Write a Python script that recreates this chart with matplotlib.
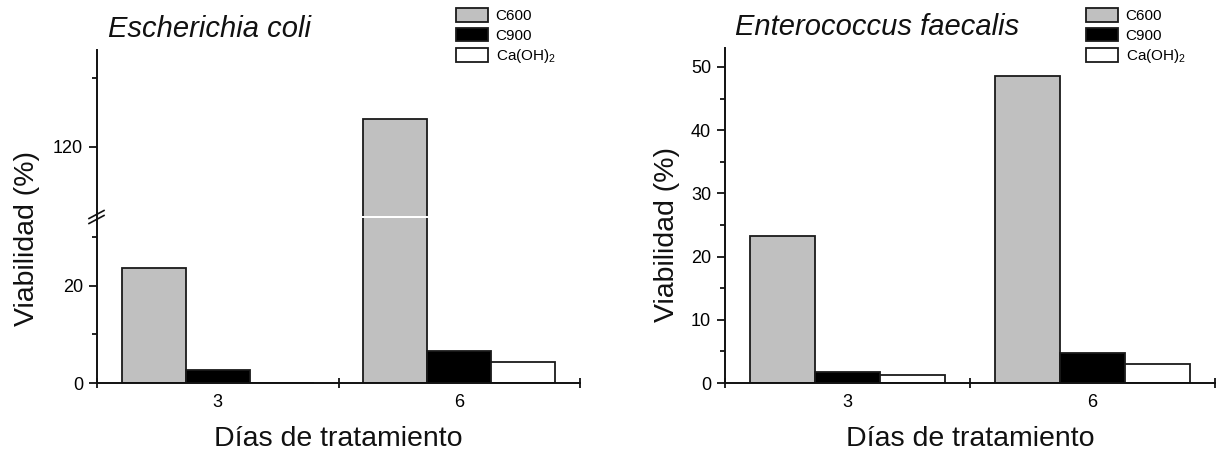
import numpy as np
import matplotlib
matplotlib.use('Agg')
import matplotlib.pyplot as plt

plt.rcParams['font.family'] = ['Liberation Sans', 'DejaVu Sans']
plt.rcParams['mathtext.fontset'] = 'custom'
plt.rcParams['mathtext.rm'] = 'Liberation Sans'

# data
days = ['3', '6']
series = ['C600', 'C900', 'Ca(OH)$_2$']

ecoli_c600 = [23.7, 124.0]
ecoli_c900 = [2.7, 6.5]
ecoli_caoh = [0.0, 4.4]

efaec_c600 = [23.3, 48.6]
efaec_c900 = [1.7, 4.7]
efaec_caoh = [1.3, 3.0]

colors = ['#c0c0c0', '#000000', '#ffffff']
edge = '#1a1a1a'
bar_w = 0.265

W, H = 1218, 453


def px_rect(x0, y0, x1, y1):
    # pixel box (top-left origin) -> figure fraction rect
    return [x0 / W, 1 - y1 / H, (x1 - x0) / W, (y1 - y0) / H]


def draw_bars(ax, groups):
    x = np.arange(1, len(days) + 1)
    handles = []
    for i, (vals, color) in enumerate(zip(groups, colors)):
        b = ax.bar(x + (i - 1) * bar_w, vals, bar_w, color=color,
                   edgecolor=edge, linewidth=1.3, label=series[i])
        handles.append(b)
    ax.set_xlim(0.5, 2.5)
    return handles


def style_axis(ax):
    for side in ['top', 'right']:
        ax.spines[side].set_visible(False)
    for side in ['left', 'bottom']:
        ax.spines[side].set_linewidth(1.4)
        ax.spines[side].set_color('#111111')
    ax.tick_params(axis='y', which='major', direction='out', length=6,
                   width=1.3, labelsize=13, pad=4, color='#111111')
    ax.tick_params(axis='y', which='minor', direction='out', length=3.6,
                   width=1.3, color='#111111')


def set_day_ticks(ax):
    ax.set_xticks([1, 2])
    ax.set_xticklabels(days)
    ax.set_xticks([0.5, 1.5, 2.5], minor=True)
    ax.tick_params(axis='x', which='major', length=0, labelsize=13, pad=8)
    ax.tick_params(axis='x', which='minor', direction='inout', length=7,
                   width=1.3, color='#111111')


fig = plt.figure(figsize=(W / 100, H / 100), dpi=100)

# Escherichia coli, broken y axis
ax_lo = fig.add_axes(px_rect(97, 218, 580, 383))
ax_hi = fig.add_axes(px_rect(97, 50, 580, 215.5))

groups_ec = [ecoli_c600, ecoli_c900, ecoli_caoh]
handles_ec = draw_bars(ax_lo, groups_ec)
draw_bars(ax_hi, groups_ec)

style_axis(ax_lo)
style_axis(ax_hi)
ax_lo.set_ylim(0, 34)
ax_lo.set_yticks([0, 20])
ax_lo.set_yticks([10, 30], minor=True)
set_day_ticks(ax_lo)

ax_hi.set_ylim(110, 134)
ax_hi.set_yticks([120])
ax_hi.set_yticks([130], minor=True)
ax_hi.spines['bottom'].set_visible(False)
ax_hi.tick_params(axis='x', which='both', bottom=False, labelbottom=False)

# break marks on the y axis
for yc in [214.5, 219.5]:
    fig.add_artist(plt.Line2D([89 / W, 104 / W],
                              [1 - (yc + 4) / H, 1 - (yc - 4) / H],
                              color='#111111', linewidth=1.2))

# Enterococcus faecalis
ax_r = fig.add_axes(px_rect(725, 48, 1215, 383))
handles_ef = draw_bars(ax_r, [efaec_c600, efaec_c900, efaec_caoh])
style_axis(ax_r)
ax_r.set_ylim(0, 53)
ax_r.set_yticks(np.arange(0, 51, 10))
ax_r.set_yticks(np.arange(5, 50, 10), minor=True)
set_day_ticks(ax_r)

# titles, labels, legends
fig.text(108 / W, 1 - 37 / H, 'Escherichia coli', fontsize=21,
         style='italic', va='baseline', ha='left', color='#111111')
fig.text(735 / W, 1 - 35 / H, 'Enterococcus faecalis', fontsize=21,
         style='italic', va='baseline', ha='left', color='#111111')

for xc in [338.5, 970]:
    fig.text(xc / W, 1 - 446 / H, 'Días de tratamiento', fontsize=20.5,
             va='baseline', ha='center', color='#111111')
for xc, yc in [(27, 238), (667, 234)]:
    fig.text(xc / W, 1 - yc / H, 'Viabilidad (%)', fontsize=20.5,
             rotation=90, va='center', ha='center', color='#111111')

for handles, x0 in [(handles_ec, 456), (handles_ef, 1086)]:
    fig.legend(handles=handles, labels=series, loc='upper left',
               bbox_to_anchor=(x0 / W, 1 - 8 / H),
               bbox_transform=fig.transFigure, frameon=False,
               fontsize=11, borderpad=0, borderaxespad=0,
               handlelength=2.1, handleheight=1.0, handletextpad=0.5,
               labelspacing=0.3)

fig.savefig('out.png', dpi=100)
